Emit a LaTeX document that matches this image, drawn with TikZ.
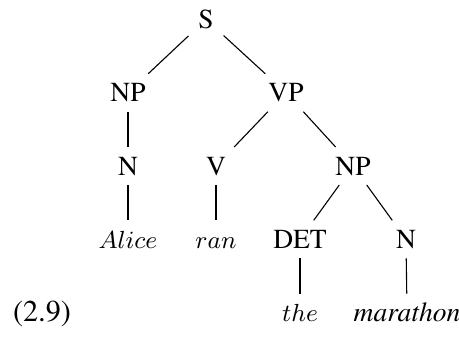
\documentclass[tikz,border=0pt]{standalone}
\usepackage[T1]{fontenc}
\usepackage{times}
\begin{document}
\begin{tikzpicture}[x=0.3636pt,y=-0.3636pt,
  cat/.style={anchor=base, inner sep=3.4pt, text height=6.6pt, text depth=0pt},
  word/.style={cat, font=\fontsize{9.1pt}{11pt}\selectfont},
  branch/.style={line width=0.4pt}]
\useasboundingbox (0,0) rectangle (459,338);
% categories
\node[cat] (s)    at (206,28.5)  {S};
\node[cat] (np1)  at (128,101.8) {NP};
\node[cat] (vp)   at (286,101.8) {VP};
\node[cat] (n1)   at (128,175.1) {N};
\node[cat] (v)    at (216,175.1) {V};
\node[cat] (np2)  at (353,175.1) {NP};
\node[cat] (det)  at (300,248.4) {DET};
\node[cat] (n2)   at (406,248.4) {N};
% words
\node[word] (alice) at (128,248) {$Alice$};
\node[word] (ran)   at (216,248) {$ran$};
\node[word] (the)   at (300,321.7) {$the$};
\node[cat]  (mar)   at (407,321.7) {\textit{marathon}};
% example number
\node[anchor=base, inner sep=0pt, font=\fontsize{11pt}{13pt}\selectfont] (num) at (42,321.7) {(2.9)};
% branches
\draw[branch] (s) -- (np1);
\draw[branch] (s) -- (vp);
\draw[branch] (np1) -- (n1);
\draw[branch] (vp) -- (v);
\draw[branch] (vp) -- (np2);
\draw[branch] (n1) -- (alice);
\draw[branch] (v) -- (ran);
\draw[branch] (np2) -- (det);
\draw[branch] (np2) -- (n2);
\draw[branch] (det) -- (the);
\draw[branch] (n2) -- (mar);
\end{tikzpicture}
\end{document}
